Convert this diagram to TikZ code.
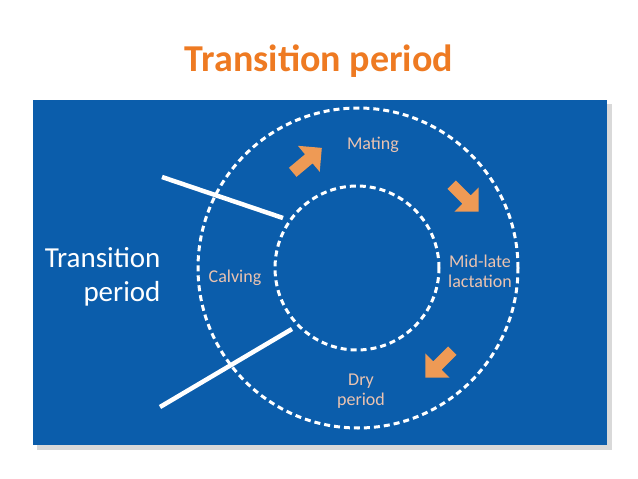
\documentclass[tikz,border=0pt]{standalone}
\usepackage{fontspec}
\setmainfont{Carlito}
\usetikzlibrary{shapes.arrows,shadows}
\definecolor{bg}{HTML}{0B5DAB}
\definecolor{org}{HTML}{EE7A22}
\definecolor{lab}{HTML}{EBC3B0}
\definecolor{arr}{HTML}{EE9A55}
\tikzset{
 lbl/.style={text=lab,font=\fontsize{18}{20}\selectfont,align=center},
 ring/.style={draw=white,line width=3pt,dash pattern=on 6pt off 4pt},
 bar/.style={draw=white,line width=4.5pt},
 barr/.style={single arrow,fill=arr,minimum height=38pt,minimum width=34pt,single arrow head extend=6pt,inner sep=3pt}
}
\begin{document}
\begin{tikzpicture}[x=1pt,y=-1pt]
\useasboundingbox (0,0) rectangle (638,479);
\node (title) at (319,61) {\fontsize{38}{40}\selectfont\bfseries\color{org}Transition period};
\fill[gray!50,opacity=0.6] (37,104) rectangle (612,450);
\fill[bg] (33,100) rectangle (607,445);
\node[ring,circle,minimum size=320pt,inner sep=0] (outer) at (358,268) {};
\node[ring,circle,minimum size=164pt,inner sep=0] (inner) at (357,268) {};
\coordinate (a1) at (162,177); \coordinate (a2) at (283,218);
\coordinate (b1) at (292,329); \coordinate (b2) at (160,407);
\draw[bar] (a1) -- (a2);
\draw[bar] (b1) -- (b2);
\node[text=white,font=\fontsize{29}{34}\selectfont,align=right,anchor=east] (tp) at (164,277) {Transition\\period};
\node[lbl] (mating) at (373,145) {Mating};
\node[lbl] (calving) at (235,278) {Calving};
\node[lbl] (mid) at (480,271) {Mid-late\\lactation};
\node[lbl] (dry) at (361,391) {Dry\\period};
\node[barr,rotate=40] (ar1) at (305,162) {};
\node[barr,rotate=-45] (ar2) at (463,196) {};
\node[barr,rotate=-135] (ar3) at (441,362) {};
\end{tikzpicture}
\end{document}
